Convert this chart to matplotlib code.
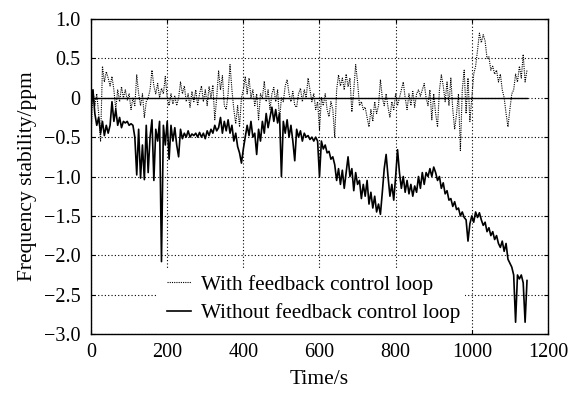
import numpy as np
import matplotlib
matplotlib.use("Agg")
import matplotlib.pyplot as plt
from matplotlib.patches import Rectangle

plt.rcParams['font.family'] = ['Liberation Serif', 'DejaVu Serif']
plt.rcParams['mathtext.fontset'] = 'stix'

# time samples (s)
time_s = np.arange(0, 1150, 5)

# Without feedback control loop (ppm)
without_fb = [
    -0.15, 0.10, -0.20, -0.35, -0.25, -0.45, -0.30, -0.48, -0.35, -0.45,
    -0.35, -0.05, -0.30, -0.15, -0.35, -0.25, -0.38, -0.30, -0.32, -0.30,
    -0.35, -0.33, -0.35, -0.50, -0.98, -0.40, -1.02, -0.60, -1.04, -0.35,
    -0.95, -0.50, -0.28, -1.05, -0.40, -0.55, -0.30, -2.08, -0.35, -0.60,
    -0.30, -0.78, -0.35, -0.55, -0.38, -0.60, -0.75, -0.40, -0.52, -0.45,
    -0.50, -0.42, -0.50, -0.46, -0.48, -0.45, -0.50, -0.44, -0.50, -0.45,
    -0.52, -0.42, -0.48, -0.40, -0.45, -0.35, -0.42, -0.38, -0.25, -0.45,
    -0.30, -0.42, -0.28, -0.45, -0.35, -0.55, -0.45, -0.62, -0.70, -0.83,
    -0.65, -0.50, -0.35, -0.48, -0.30, -0.50, -0.45, -0.72, -0.40, -0.55,
    -0.30, -0.45, -0.20, -0.38, -0.25, -0.12, -0.30, -0.15, -0.32, -0.20,
    -1.00, -0.30, -0.45, -0.28, -0.50, -0.35, -0.55, -0.80, -0.40, -0.50,
    -0.42, -0.55, -0.45, -0.50, -0.48, -0.53, -0.50, -0.55, -0.50, -0.55,
    -1.00, -0.55, -0.65, -0.60, -0.70, -0.68, -0.78, -0.75, -0.85, -1.05,
    -0.90, -1.10, -0.92, -1.15, -0.95, -0.75, -1.00, -0.90, -1.18, -0.95,
    -1.10, -1.05, -1.28, -1.10, -1.25, -1.05, -1.35, -1.20, -1.40, -1.25,
    -1.45, -1.35, -1.48, -1.20, -0.90, -0.72, -1.00, -1.25, -1.10, -1.30,
    -1.00, -0.66, -0.95, -1.15, -1.00, -1.20, -1.05, -1.22, -1.10, -1.25,
    -1.12, -1.20, -1.00, -1.15, -0.95, -1.10, -0.95, -1.00, -0.90, -1.00,
    -0.88, -0.95, -1.05, -1.00, -1.15, -1.08, -1.22, -1.18, -1.30, -1.28,
    -1.38, -1.32, -1.42, -1.40, -1.50, -1.45, -1.52, -1.55, -1.82, -1.60,
    -1.50, -1.58, -1.45, -1.52, -1.46, -1.55, -1.62, -1.58, -1.70, -1.65,
    -1.75, -1.70, -1.80, -1.75, -1.85, -1.90, -1.82, -1.95, -1.85, -2.05,
    -2.10, -2.15, -2.25, -2.85, -2.25, -2.30, -2.25, -2.35, -2.85, -2.32,
]

# With feedback control loop (ppm)
with_fb = [
    -0.50, 0.10, -0.10, 0.05, -0.20, -0.55, 0.40, 0.20, 0.33, 0.25,
    0.15, 0.27, 0.10, -0.15, 0.10, -0.05, 0.14, 0.00, 0.10, -0.03,
    0.05, -0.15, 0.00, -0.10, 0.29, 0.05, -0.10, 0.05, -0.25, -0.05,
    0.00, 0.10, 0.35, 0.15, 0.05, 0.18, 0.00, 0.12, 0.05, 0.27,
    0.00, -0.10, 0.05, -0.08, 0.02, -0.10, 0.00, 0.20, 0.05, 0.15,
    -0.05, 0.05, -0.12, 0.08, -0.05, 0.10, -0.10, 0.05, 0.15, -0.05,
    0.10, -0.10, 0.14, 0.00, 0.16, -0.28, 0.00, 0.34, 0.10, 0.28,
    -0.10, -0.15, 0.05, 0.42, 0.10, -0.15, -0.33, -0.10, -0.37, 0.00,
    0.10, 0.27, 0.05, 0.25, 0.00, 0.10, -0.10, 0.05, -0.28, 0.05,
    0.00, 0.21, -0.05, 0.10, -0.15, 0.05, 0.13, -0.05, 0.10, -0.28,
    0.00, -0.05, 0.15, 0.23, 0.05, -0.05, 0.08, -0.10, -0.12, 0.05,
    0.12, -0.05, 0.10, 0.00, 0.25, 0.10, -0.05, 0.05, -0.15, -0.05,
    -0.41, 0.00, -0.10, 0.05, -0.15, -0.24, -0.05, -0.15, -0.50, 0.10,
    0.29, 0.15, 0.25, 0.10, 0.30, 0.14, 0.25, -0.18, 0.10, 0.42,
    0.20, -0.10, -0.05, -0.15, -0.12, -0.25, -0.37, -0.15, -0.30, -0.05,
    -0.20, -0.10, 0.23, 0.00, -0.10, 0.05, -0.12, -0.25, -0.05, -0.15,
    0.05, -0.10, 0.00, 0.10, 0.20, 0.00, -0.15, 0.05, -0.10, 0.08,
    -0.12, 0.05, 0.10, 0.02, 0.10, 0.18, 0.00, -0.10, 0.10, -0.28,
    0.05, -0.20, -0.37, 0.10, 0.29, 0.15, -0.05, 0.20, -0.10, 0.25,
    -0.15, -0.40, -0.20, 0.05, -0.67, 0.10, 0.35, -0.20, 0.25, -0.30,
    0.00, 0.30, 0.40, 0.60, 0.82, 0.70, 0.80, 0.72, 0.50, 0.52,
    0.35, 0.40, 0.30, 0.35, 0.20, 0.30, 0.10, 0.00, -0.20, -0.37,
    -0.15, 0.05, 0.10, 0.30, 0.20, 0.40, 0.25, 0.55, 0.20, 0.35,
]

zero_line_t = [0, 1145]
zero_line_v = [0, 0]

x_ticks = [0, 200, 400, 600, 800, 1000, 1200]
y_ticks = [1.0, 0.5, 0, -0.5, -1.0, -1.5, -2.0, -2.5, -3.0]
y_tick_labels = ["1.0", "0.5", "0", "\u22120.5", "\u22121.0", "\u22121.5",
                 "\u22122.0", "\u22122.5", "\u22123.0"]

fig = plt.figure(figsize=(5.69, 3.93), dpi=100)
ax = fig.add_axes([0.16, 0.150, 0.803, 0.8017])

ax.set_axisbelow(True)
ax.grid(True, color='black', linestyle=(0, (1, 2)), linewidth=0.8)

# white area behind legend (covers grid)
ax.add_patch(Rectangle((0.144, 0.0), 0.674, 0.206, transform=ax.transAxes,
                       facecolor='white', edgecolor='none', zorder=1))

l1, = ax.plot(time_s, with_fb, color='black', linestyle=(0, (1, 1)),
              linewidth=0.8, zorder=2, label='With feedback control loop')
l2, = ax.plot(time_s, without_fb, color='black', linestyle='-',
              linewidth=1.2, zorder=3, label='Without feedback control loop')
ax.plot(zero_line_t, zero_line_v, color='black', linewidth=1.0, zorder=3)

ax.set_xlim(0, 1200)
ax.set_ylim(-3.0, 1.0)
ax.set_xticks(x_ticks)
ax.set_yticks(y_ticks)
ax.set_yticklabels(y_tick_labels)

ax.tick_params(direction='in', length=3, width=0.8, top=True, right=True,
               labelsize=14.5)
ax.tick_params(axis='y', pad=7.5)
ax.tick_params(axis='x', pad=6.5)
for s in ax.spines.values():
    s.set_linewidth(1.0)
    s.set_color('black')

ax.set_xlabel('Time/s', fontsize=15.5, labelpad=6)
ax.set_ylabel('Frequency stability/ppm', fontsize=15.5, labelpad=5)

leg = ax.legend(handles=[l1, l2], loc='lower left',
                bbox_to_anchor=(0.1657, 0.035), frameon=False,
                fontsize=15.3, handlelength=1.15, handletextpad=0.45,
                labelspacing=0.39, borderpad=0, borderaxespad=0)
leg.set_zorder(5)

fig.savefig('out.png', dpi=100)
